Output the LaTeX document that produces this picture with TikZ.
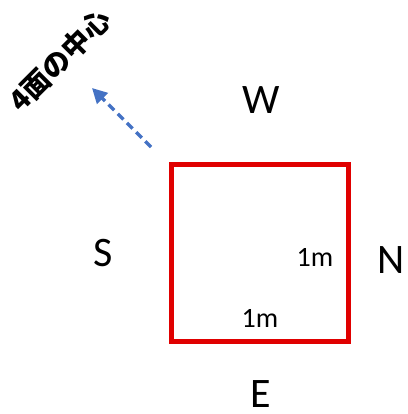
\documentclass[tikz,border=0pt]{standalone}
\usepackage{fontspec}
\setmainfont{Carlito}
\newfontfamily\jpfont{Noto Sans CJK JP}
\usetikzlibrary{arrows.meta}
\definecolor{boxred}{RGB}{224,0,0}
\definecolor{arrblue}{RGB}{68,114,196}
\begin{document}
\begin{tikzpicture}[x=1pt,y=-1pt,
  big/.style={font=\fontsize{42}{50}\selectfont, inner sep=0pt},
  dimlab/.style={font=\fontsize{28}{32}\selectfont, inner sep=0pt},
  jp/.style={font=\jpfont\bfseries\fontsize{28}{32}\selectfont, inner sep=0pt},
  ]
\path[use as bounding box] (0,0) rectangle (407,414);
\node[draw=boxred, line width=5pt, minimum width=177pt, minimum height=177pt,
      inner sep=0pt, outer sep=0pt] (sq) at (259.5,252.5) {};
\node[big] (W) at (261,100) {W};
\node[big] (S) at (103,253) {S};
\node[big] (N) at (391,260) {N};
\node[big] (E) at (261,394) {E};
\node[dimlab] (m1) at (315,257) {1m};
\node[dimlab] (m2) at (260,318) {1m};
\node[jp, rotate=45] (lab) at (60,60) {4面の中心};
\coordinate (a1) at (151,147);
\coordinate (a2) at (92,88);
\draw[arrblue, line width=3.5pt, dash pattern=on 8pt off 5pt,
      -{Triangle[length=15pt,width=15pt]}] (a1) -- (a2);
\end{tikzpicture}
\end{document}
